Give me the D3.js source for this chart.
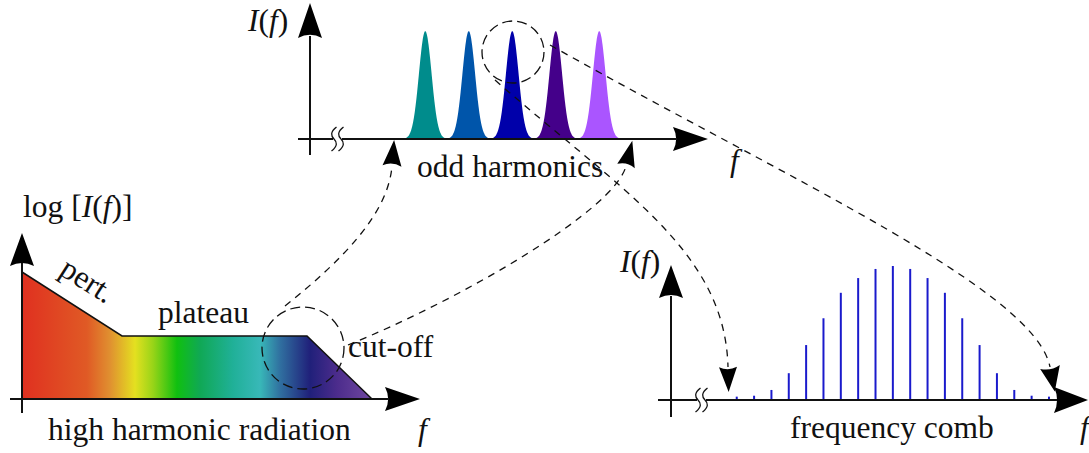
<!DOCTYPE html>
<html>
<head>
<meta charset="utf-8">
<script src="https://cdn.jsdelivr.net/npm/d3@7"></script>
<style>
  html, body { margin: 0; padding: 0; background: #fff; }
  svg { display: block; }
  text { font-family: "Liberation Serif", "Times New Roman", serif; font-size: 31.5px; fill: #111; }
  .it { font-style: italic; }
</style>
</head>
<body>
<svg id="fig" width="1089" height="453"></svg>
<script>
// ---- data ---------------------------------------------------------------
// odd harmonics: order, peak intensity, fill colour
const peakOrders  = [13, 15, 17, 19, 21];
const peakHeights = [1, 1, 1, 1, 1];
const peakColors  = ["#008c8c", "#0055aa", "#0000aa", "#44008a", "#aa55ff"];
const peakWidth   = 0.29;          // gaussian sigma, in harmonic-order units

// frequency comb: tooth index and relative intensity
const combOrders = [1, 2, 3, 4, 5, 6, 7, 8, 9, 10, 11, 12, 13, 14, 15, 16, 17, 18, 19];
const combValues = [0.025, 0.032, 0.075, 0.2, 0.41, 0.61, 0.8, 0.91, 0.978, 1.0,
                    0.978, 0.91, 0.8, 0.61, 0.41, 0.2, 0.075, 0.032, 0.025];

// HHG spectrum envelope: frequency and log intensity (perturbative, plateau, cut-off)
const envelopeF    = [0, 10, 28.5, 35];
const envelopeLogI = [12.7, 6.3, 6.3, 0];

// colour of the emitted light along the frequency axis
const spectrumStopF   = [0, 6.5, 8.8, 11.3, 13.1, 15.5, 17.8, 21.1, 23.8, 25.8, 28.8, 31.5, 35];
const spectrumColors  = ["#e03020", "#e05a25", "#e09030", "#e4e020", "#98d418", "#10c010",
                         "#10a855", "#20b098", "#38b8b8", "#3070a0", "#20207a", "#4c2c8c", "#7048a0"];

// ---- drawing --------------------------------------------------------------
const svg = d3.select("#fig");

function norm(dx, dy) { const l = Math.hypot(dx, dy); return [dx / l, dy / l]; }

// filled arrowhead with a slightly hollow back
function arrowHead(g, tip, dir, len, hw) {
  const [ux, uy] = norm(dir[0], dir[1]);
  const bx = tip[0] - ux * len, by = tip[1] - uy * len;
  const px = -uy, py = ux;
  const p = d3.path();
  p.moveTo(tip[0], tip[1]);
  p.lineTo(bx + px * hw, by + py * hw);
  p.quadraticCurveTo(bx + ux * len * 0.18, by + uy * len * 0.18, bx - px * hw, by - py * hw);
  p.closePath();
  g.append("path").attr("d", p.toString()).attr("fill", "#000");
}

function axisLine(g, x1, y1, x2, y2) {
  g.append("line").attr("x1", x1).attr("y1", y1).attr("x2", x2).attr("y2", y2)
    .attr("stroke", "#111").attr("stroke-width", 2);
}

// axis-break mark (two wavy strokes)
function breakMark(g, cx, cy) {
  [-3.5, 3.5].forEach(o => {
    const x = cx + o;
    g.append("path")
      .attr("d", `M${x + 2.5},${cy - 12} C${x - 4},${cy - 7} ${x - 3},${cy - 3} ${x},${cy} ` +
                 `C${x + 3},${cy + 3} ${x + 4},${cy + 7} ${x - 2.5},${cy + 12}`)
      .attr("fill", "none").attr("stroke", "#111").attr("stroke-width", 1.3);
  });
}

function label(g, x, y, parts, anchor) {
  const t = g.append("text").attr("x", x).attr("y", y).attr("text-anchor", anchor || "start");
  parts.forEach(([s, it]) => t.append("tspan").attr("class", it ? "it" : null).text(s));
  return t;
}

// ===== top panel: odd harmonics ==========================================
const harmonicsPanel = svg.append("g");
const xTop = d3.scaleLinear().domain([7.7, 26]).range([310, 708]);
const yTop = d3.scaleLinear().domain([0, 1]).range([139, 31]);

const peakArea = d3.area().x(d => xTop(d[0])).y0(yTop(0)).y1(d => yTop(d[1])).curve(d3.curveBasis);
peakOrders.forEach((c, i) => {
  const pts = d3.range(-1.25, 1.2501, 0.025).map(dx =>
    [c + dx, peakHeights[i] * Math.exp(-dx * dx / (2 * peakWidth * peakWidth))]);
  harmonicsPanel.append("path").attr("d", peakArea(pts)).attr("fill", peakColors[i]);
});

axisLine(harmonicsPanel, 298, yTop(0), 333, yTop(0));
axisLine(harmonicsPanel, 342, yTop(0), 676, yTop(0));
breakMark(harmonicsPanel, 337.5, yTop(0));
arrowHead(harmonicsPanel, [708, yTop(0)], [1, 0], 35, 12);
axisLine(harmonicsPanel, 310, 36, 310, 155);
arrowHead(harmonicsPanel, [310, 3], [0, -1], 35, 12);

label(harmonicsPanel, 248, 31, [["I", 1], ["(", 0], ["f", 1], [")", 0]]);
label(harmonicsPanel, 730, 171, [["f", 1]]);
label(harmonicsPanel, 417, 177, [["odd harmonics", 0]]);

// ===== bottom left: HHG spectrum ========================================
const hhgPanel = svg.append("g");
const xL = d3.scaleLinear().domain([0, 39.8]).range([22, 420]);
const yL = d3.scaleLinear().domain([0, 16.6]).range([399, 233]);

const grad = svg.append("defs").append("linearGradient").attr("id", "spectrum")
  .attr("gradientUnits", "userSpaceOnUse")
  .attr("x1", xL(0)).attr("x2", xL(35)).attr("y1", 0).attr("y2", 0);
spectrumStopF.forEach((f, i) => grad.append("stop")
  .attr("offset", f / 35).attr("stop-color", spectrumColors[i]));

const envPts = envelopeF.map((f, i) => [f, envelopeLogI[i]]);
const envArea = d3.area().x(d => xL(d[0])).y0(yL(0)).y1(d => yL(d[1]));
hhgPanel.append("path").attr("d", envArea(envPts)).attr("fill", "url(#spectrum)");
hhgPanel.append("path").attr("d", d3.line().x(d => xL(d[0])).y(d => yL(d[1]))(envPts))
  .attr("fill", "none").attr("stroke", "#111").attr("stroke-width", 1.5);

axisLine(hhgPanel, 10, yL(0), 388, yL(0));
arrowHead(hhgPanel, [420, yL(0)], [1, 0], 35, 12);
axisLine(hhgPanel, xL(0), 263, xL(0), 413);
arrowHead(hhgPanel, [xL(0), 233], [0, -1], 33, 12);

label(hhgPanel, 23, 217, [["log [", 0], ["I", 1], ["(", 0], ["f", 1], [")]", 0]]);
label(hhgPanel, 0, 0, [["pert.", 0]], "middle").attr("transform", "translate(82,289) rotate(32.6)");
label(hhgPanel, 158, 323, [["plateau", 0]]);
label(hhgPanel, 348, 357, [["cut-off", 0]]);
label(hhgPanel, 48, 440, [["high harmonic radiation", 0]]);
label(hhgPanel, 418, 440, [["f", 1]]);

// ===== bottom right: frequency comb =====================================
const combPanel = svg.append("g");
const xC = d3.scaleLinear().domain([-2.79, 21.25]).range([671, 1088]);
const yC = d3.scaleLinear().domain([0, 1]).range([400, 266]);

combPanel.selectAll("line.tooth").data(combOrders).join("line").attr("class", "tooth")
  .attr("x1", d => xC(d)).attr("x2", d => xC(d))
  .attr("y1", yC(0)).attr("y2", (d, i) => yC(combValues[i]))
  .attr("stroke", "#1a1acc").attr("stroke-width", 2);

axisLine(combPanel, 658, yC(0), 697, yC(0));
axisLine(combPanel, 706, yC(0), 1058, yC(0));
breakMark(combPanel, 701.5, yC(0));
arrowHead(combPanel, [1088, yC(0)], [1, 0], 34, 13);
axisLine(combPanel, 671, 296, 671, 417);
arrowHead(combPanel, [671, 265], [0, -1], 33, 12);

label(combPanel, 620, 272, [["I", 1], ["(", 0], ["f", 1], [")", 0]]);
label(combPanel, 790, 438, [["frequency comb", 0]]);
label(combPanel, 1080, 438, [["f", 1]]);

// ===== zoom circles and dashed connectors ================================
const links = svg.append("g");
links.append("circle").attr("cx", 513).attr("cy", 52).attr("r", 31)
  .attr("fill", "none").attr("stroke", "#111").attr("stroke-width", 1.3).attr("stroke-dasharray", "10,5");
links.append("circle").attr("cx", 303).attr("cy", 348).attr("r", 41)
  .attr("fill", "none").attr("stroke", "#111").attr("stroke-width", 1.3).attr("stroke-dasharray", "10,5");

const connectors = [
  { p0: [285, 306], c1: [340, 262], c2: [388, 215], p1: [392, 166], len: 26, hw: 9.5 },
  { p0: [348, 345], c1: [460, 300], c2: [615, 210], p1: [626, 166], len: 26, hw: 9 },
  { p0: [495, 80],  c1: [620, 190], c2: [725, 250], p1: [728, 367], len: 25, hw: 9 },
  { p0: [550, 45],  c1: [790, 180], c2: [1035, 290], p1: [1050, 367], len: 25, hw: 10 }
];
connectors.forEach(c => {
  const p = d3.path();
  p.moveTo(...c.p0);
  p.bezierCurveTo(...c.c1, ...c.c2, ...c.p1);
  links.append("path").attr("d", p.toString()).attr("fill", "none")
    .attr("stroke", "#111").attr("stroke-width", 1.3).attr("stroke-dasharray", "7,6");
  const [ux, uy] = norm(c.p1[0] - c.c2[0], c.p1[1] - c.c2[1]);
  arrowHead(links, [c.p1[0] + ux * c.len, c.p1[1] + uy * c.len], [ux, uy], c.len, c.hw);
});
</script>
</body>
</html>
